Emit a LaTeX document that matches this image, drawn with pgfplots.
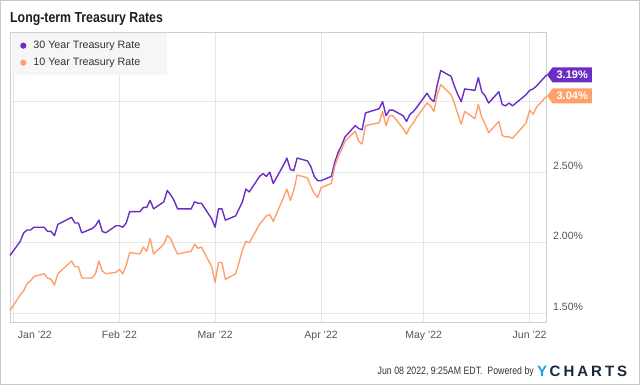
\documentclass[border=0pt]{standalone}
\usepackage{fontspec}
\setmainfont{Liberation Sans}
\newfontfamily\titlefont{Liberation Sans}[FakeStretch=0.85]
\newfontfamily\footfont{Liberation Sans}[FakeStretch=0.82]
\usepackage{pgfplots}
\pgfplotsset{compat=1.18}
\usetikzlibrary{shapes.symbols}
\definecolor{c30}{HTML}{6A2EC4}
\definecolor{c10}{HTML}{FFA06C}
\definecolor{framegray}{HTML}{CFCFCF}
\definecolor{gridgray}{HTML}{E6E6E6}
\definecolor{outergray}{HTML}{C8C8C8}
\definecolor{ticktext}{HTML}{555555}
\definecolor{legendbg}{HTML}{F6F6F6}
\definecolor{legendtext}{HTML}{333333}
\definecolor{titlecol}{HTML}{1E1E1E}
\definecolor{ylogo}{HTML}{1E9FE3}
\definecolor{navy}{HTML}{1B2838}

\pgfplotstableread{
day v
-1 1.52
2 1.63
3 1.66
4 1.71
5 1.73
6 1.76
9 1.78
10 1.75
11 1.74
12 1.70
13 1.78
17 1.87
18 1.83
19 1.83
20 1.75
23 1.75
24 1.78
25 1.87
26 1.80
27 1.78
30 1.79
31 1.81
32 1.78
33 1.84
34 1.93
37 1.92
38 1.97
39 1.94
40 2.03
41 1.92
44 1.99
45 2.05
46 2.03
47 1.97
48 1.92
52 1.94
53 1.99
54 1.96
55 1.97
58 1.83
59 1.72
60 1.86
61 1.86
62 1.74
65 1.78
66 1.86
67 1.95
68 2.01
69 2.00
72 2.13
73 2.16
74 2.19
75 2.20
76 2.15
79 2.32
80 2.38
81 2.30
82 2.37
83 2.48
86 2.46
87 2.40
88 2.35
89 2.32
90 2.39
93 2.42
94 2.54
95 2.61
96 2.66
97 2.72
100 2.79
101 2.72
102 2.70
103 2.83
107 2.85
108 2.93
109 2.83
110 2.90
111 2.90
114 2.81
115 2.77
116 2.82
117 2.85
118 2.89
121 2.99
122 2.97
123 2.93
124 3.05
125 3.12
128 3.05
129 2.99
130 2.91
131 2.84
132 2.93
135 2.88
136 2.98
137 2.89
138 2.84
139 2.78
142 2.86
143 2.76
144 2.75
145 2.75
146 2.74
150 2.85
151 2.94
152 2.91
153 2.96
156 3.04
}\tenyear

\pgfplotstableread{
day v
-1 1.91
2 2.01
3 2.07
4 2.09
5 2.09
6 2.11
9 2.11
10 2.08
11 2.08
12 2.05
13 2.13
17 2.18
18 2.14
19 2.14
20 2.07
23 2.10
24 2.12
25 2.16
26 2.08
27 2.07
30 2.12
31 2.12
32 2.11
33 2.14
34 2.22
37 2.22
38 2.25
39 2.25
40 2.30
41 2.24
44 2.29
45 2.37
46 2.34
47 2.30
48 2.24
52 2.24
53 2.29
54 2.28
55 2.28
58 2.17
59 2.11
60 2.24
61 2.24
62 2.16
65 2.19
66 2.24
67 2.29
68 2.38
69 2.36
72 2.47
73 2.49
74 2.47
75 2.50
76 2.42
79 2.55
80 2.60
81 2.52
82 2.51
83 2.60
86 2.58
87 2.54
88 2.47
89 2.44
90 2.44
93 2.47
94 2.57
95 2.64
96 2.69
97 2.75
100 2.83
101 2.81
102 2.80
103 2.92
107 2.95
108 3.00
109 2.90
110 2.94
111 2.94
114 2.90
115 2.86
116 2.91
117 2.93
118 2.96
121 3.06
122 3.02
123 3.00
124 3.12
125 3.22
128 3.18
129 3.11
130 3.05
131 3.00
132 3.09
135 3.08
136 3.17
137 3.07
138 3.04
139 2.99
142 3.07
143 2.98
144 2.97
145 2.99
146 2.97
150 3.05
151 3.08
152 3.09
153 3.11
156 3.19
}\thirtyyear

\tikzset{tag/.style={shape=signal, signal to=west, signal pointer angle=106,
  text=white, font=\bfseries\fontsize{11}{12}\selectfont, inner xsep=4pt, inner ysep=2pt,
  minimum height=15pt, anchor=west}}

\begin{document}
\begin{tikzpicture}[x=1pt,y=1pt]
\path[use as bounding box] (0,0) rectangle (640,385);
\draw[outergray, line width=0.8pt] (0.4,0.4) rectangle (639.6,384.6);
\node[anchor=base west, inner sep=0pt, text=titlecol,
  font=\titlefont\bfseries\fontsize{14.5}{16}\selectfont] at (10,362.3) {Long-term Treasury Rates};
\begin{axis}[
  at={(10pt,62.7pt)}, anchor=south west, scale only axis,
  width=536.7pt, height=289.8pt,
  xmin=-1, xmax=156, ymin=1.436, ymax=3.490,
  axis line style={draw=framegray, line width=0.8pt},
  grid=major, major grid style={draw=gridgray, line width=0.8pt},
  xtick={0,31,59,90,120,151},
  xticklabels={\hspace*{43pt}Jan '22, Feb '22, Mar '22, Apr '22, May '22, Jun '22},
  ytick={1.5,2,2.5,3},
  yticklabels={1.50\%,2.00\%,2.50\%,{}},
  yticklabel pos=right,
  major tick length=0pt, tick style={draw=none},
  tick label style={font=\fontsize{10.5}{12}\selectfont, text=ticktext},
  xticklabel style={anchor=base, inner sep=0pt, yshift=-16pt},
  yticklabel style={anchor=base west, inner sep=0pt, xshift=6.3pt, yshift=2.8pt},
  clip=false,
  legend style={at={(0,1)}, anchor=north west, xshift=2pt, yshift=-0.5pt,
    fill=legendbg, draw=none, inner xsep=8pt, inner ysep=6pt, row sep=4pt,
    font=\fontsize{10.7}{12}\selectfont, text=legendtext,
    nodes={inner sep=2pt},
    /tikz/every odd column/.append style={column sep=5pt}},
  legend cell align=left,
  legend image code/.code={\fill[#1, draw=none] (0pt,0pt) circle (3.1pt);},
]
\addplot[c30, line width=1.4pt, line join=round] table[x=day, y=v] {\thirtyyear};
\addlegendentry{\makebox[124pt][l]{30 Year Treasury Rate}}
\addplot[c10, line width=1.4pt, line join=round] table[x=day, y=v] {\tenyear};
\addlegendentry{\makebox[124pt][l]{10 Year Treasury Rate}}
\addplot[forget plot, draw=none, nodes near coords={3.19\%}, nodes near coords align={anchor=west},
  every node near coord/.append style={tag, fill=c30}] coordinates {(156,3.19)};
\addplot[forget plot, draw=none, nodes near coords={3.04\%}, nodes near coords align={anchor=west},
  every node near coord/.append style={tag, fill=c10}] coordinates {(156,3.04)};
\end{axis}
\node[anchor=base east, inner sep=0pt, text=legendtext,
  font=\footfont\fontsize{10.7}{12}\selectfont] at (534,10.5) {Jun 08 2022, 9:25AM EDT.\ \ Powered by};
\node[anchor=base west, inner sep=0pt, font=\bfseries\fontsize{15}{16}\selectfont] at (537,8.5)
  {\textcolor{ylogo}{Y}\kern2.5pt\textcolor{navy}{C\kern3pt H\kern3pt A\kern3pt R\kern3pt T\kern3pt S}};
\end{tikzpicture}
\end{document}
